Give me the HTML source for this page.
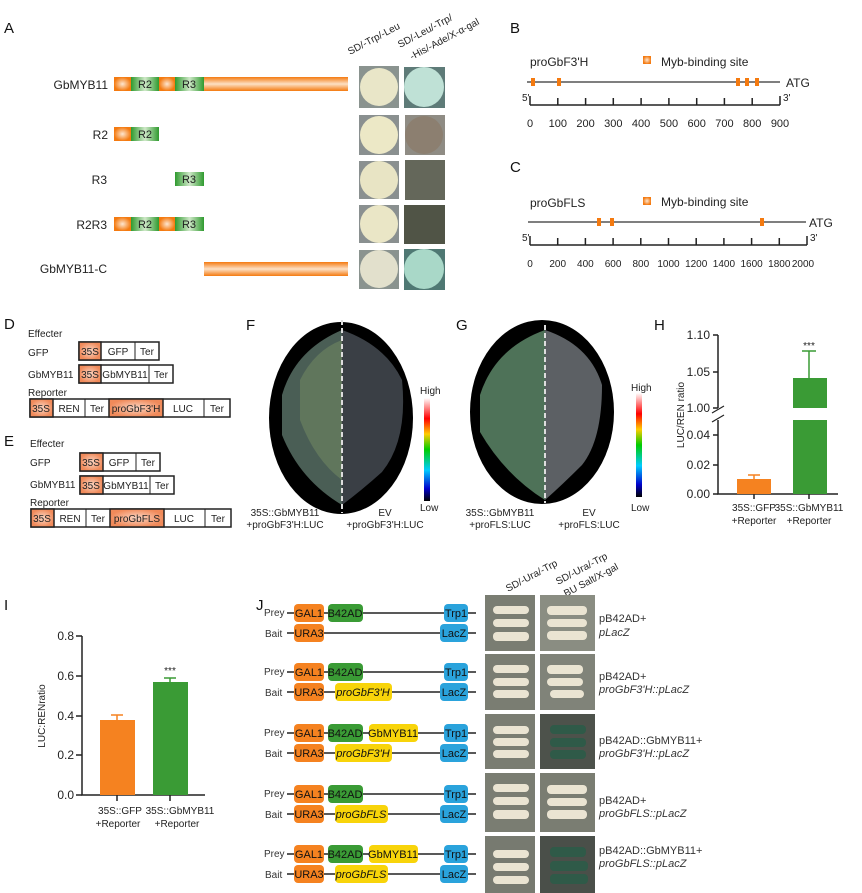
<!DOCTYPE html>
<html><head><meta charset="utf-8"><style>
html,body{margin:0;padding:0;background:#fff;}
svg{display:block;font-family:"Liberation Sans",Arial,sans-serif;}
</style></head><body>
<svg width="862" height="893" viewBox="0 0 862 893" xmlns="http://www.w3.org/2000/svg">
<defs>
<linearGradient id="og" x1="0" y1="0" x2="0" y2="1"><stop offset="0" stop-color="#f47a10"/><stop offset=".5" stop-color="#fde0c4"/><stop offset="1" stop-color="#f47a10"/></linearGradient>
<radialGradient id="ogr"><stop offset="0" stop-color="#fde6d0"/><stop offset="1" stop-color="#f47a10"/></radialGradient>
<linearGradient id="gg" x1="0" y1="0" x2="1" y2="0"><stop offset="0" stop-color="#2f9a2f"/><stop offset=".5" stop-color="#cfe8c8"/><stop offset="1" stop-color="#2f9a2f"/></linearGradient>
<radialGradient id="pg"><stop offset="0" stop-color="#fbd6c4"/><stop offset="1" stop-color="#f08a5a"/></radialGradient>
<linearGradient id="cb" x1="0" y1="0" x2="0" y2="1"><stop offset="0" stop-color="#fff"/><stop offset=".2" stop-color="#f00"/><stop offset=".35" stop-color="#fc0"/><stop offset=".5" stop-color="#0c0"/><stop offset=".7" stop-color="#0cf"/><stop offset=".88" stop-color="#00c"/><stop offset="1" stop-color="#000"/></linearGradient>
</defs>
<style>
.t{font-size:12px;fill:#222}.s{font-size:10px;fill:#222}.L{font-size:15px;fill:#111}
.bx{fill:#fff;stroke:#222;stroke-width:1.5}
</style>

<!-- A -->
<text x="4" y="33" class="L">A</text>
<text x="350" y="55" class="s" transform="rotate(-28 350 55)">SD/-Trp/-Leu</text>
<text x="400" y="48" class="s" transform="rotate(-28 400 48)">SD/-Leu/-Trp/</text>
<text x="412" y="60" class="s" transform="rotate(-28 412 60)">-His/-Ade/X-α-gal</text>
<g class="t" text-anchor="end">
<text x="108" y="89">GbMYB11</text><text x="108" y="139">R2</text><text x="107" y="184">R3</text><text x="107" y="229">R2R3</text><text x="107" y="273">GbMYB11-C</text></g>
<g>
<rect x="114" y="77" width="17" height="14" fill="url(#ogr)"/><rect x="131" y="77" width="28" height="14" fill="url(#gg)"/><rect x="159" y="77" width="16" height="14" fill="url(#ogr)"/><rect x="175" y="77" width="29" height="14" fill="url(#gg)"/><rect x="204" y="77" width="144" height="14" fill="url(#og)"/>
<rect x="114" y="127" width="17" height="14" fill="url(#ogr)"/><rect x="131" y="127" width="28" height="14" fill="url(#gg)"/>
<rect x="175" y="172" width="29" height="14" fill="url(#gg)"/>
<rect x="114" y="217" width="17" height="14" fill="url(#ogr)"/><rect x="131" y="217" width="28" height="14" fill="url(#gg)"/><rect x="159" y="217" width="16" height="14" fill="url(#ogr)"/><rect x="175" y="217" width="29" height="14" fill="url(#gg)"/>
<rect x="204" y="262" width="144" height="14" fill="url(#og)"/>
</g>
<g font-size="11" fill="#222" text-anchor="middle">
<text x="145" y="88">R2</text><text x="189" y="88">R3</text><text x="145" y="138">R2</text><text x="189" y="183">R3</text><text x="145" y="228">R2</text><text x="189" y="228">R3</text></g>
<g>
<rect x="359" y="66" width="40" height="42" fill="#8a938f"/><circle cx="379" cy="87" r="19" fill="#e9e6c8"/>
<rect x="404" y="67" width="41" height="41" fill="#5e7b78"/><circle cx="424" cy="87" r="20" fill="#bfe1d6"/>
<rect x="359" y="115" width="40" height="40" fill="#8a9090"/><circle cx="379" cy="135" r="19" fill="#ece8c6"/>
<rect x="405" y="115" width="40" height="40" fill="#8f8c84"/><circle cx="424" cy="135" r="19" fill="#8c7f70"/>
<rect x="359" y="161" width="40" height="38" fill="#8a9090"/><circle cx="379" cy="180" r="19" fill="#e8e4c4"/>
<rect x="405" y="160" width="40" height="40" fill="#64675a"/>
<rect x="359" y="205" width="40" height="38" fill="#8a9090"/><circle cx="379" cy="224" r="19" fill="#eae6c6"/>
<rect x="404" y="205" width="41" height="39" fill="#505446"/>
<rect x="359" y="250" width="40" height="39" fill="#8a938f"/><circle cx="379" cy="269" r="19" fill="#e2e0cc"/>
<rect x="404" y="249" width="41" height="41" fill="#4f7873"/><circle cx="424" cy="269" r="20" fill="#a9d8c8"/>
</g>

<!-- B -->
<text x="510" y="33" class="L">B</text>
<text x="530" y="66" class="t">proGbF3'H</text>
<rect x="643" y="56" width="8" height="8" fill="url(#ogr)"/><text x="661" y="66" class="t">Myb-binding site</text>
<line x1="527" y1="82" x2="780" y2="82" stroke="#333" stroke-width="1.2"/><text x="786" y="87" class="t">ATG</text>
<g fill="#f47a10"><rect x="531" y="78" width="4" height="8"/><rect x="557" y="78" width="4" height="8"/><rect x="736" y="78" width="4" height="8"/><rect x="745" y="78" width="4" height="8"/><rect x="755" y="78" width="4" height="8"/></g>
<text x="522" y="101" class="s">5'</text><text x="783" y="101" class="s">3'</text>
<path d="M530 105H780M530 96V105M557.8 98V105M585.6 98V105M613.3 98V105M641.1 98V105M668.9 98V105M696.7 98V105M724.4 98V105M752.2 98V105M780 96V105" stroke="#222" stroke-width="1.5" fill="none"/>
<g font-size="11" fill="#222" text-anchor="middle"><text x="530" y="127">0</text><text x="557.8" y="127">100</text><text x="585.6" y="127">200</text><text x="613.3" y="127">300</text><text x="641.1" y="127">400</text><text x="668.9" y="127">500</text><text x="696.7" y="127">600</text><text x="724.4" y="127">700</text><text x="752.2" y="127">800</text><text x="780" y="127">900</text></g>

<!-- C -->
<text x="510" y="172" class="L">C</text>
<text x="530" y="207" class="t">proGbFLS</text>
<rect x="643" y="197" width="8" height="8" fill="url(#ogr)"/><text x="661" y="206" class="t">Myb-binding site</text>
<line x1="528" y1="222" x2="806" y2="222" stroke="#333" stroke-width="1.2"/><text x="809" y="227" class="t">ATG</text>
<g fill="#f47a10"><rect x="597" y="218" width="4" height="8"/><rect x="610" y="218" width="4" height="8"/><rect x="760" y="218" width="4" height="8"/></g>
<text x="522" y="241" class="s">5'</text><text x="810" y="241" class="s">3'</text>
<path d="M530 245H807M530 236V245M557.7 238V245M585.4 238V245M613.1 238V245M640.8 238V245M668.5 238V245M696.2 238V245M723.9 238V245M751.6 238V245M779.3 238V245M807 236V245" stroke="#222" stroke-width="1.5" fill="none"/>
<g class="s" text-anchor="middle"><text x="530" y="267">0</text><text x="557.7" y="267">200</text><text x="585.4" y="267">400</text><text x="613.1" y="267">600</text><text x="640.8" y="267">800</text><text x="668.5" y="267">1000</text><text x="696.2" y="267">1200</text><text x="723.9" y="267">1400</text><text x="751.6" y="267">1600</text><text x="779.3" y="267">1800</text><text x="803" y="267">2000</text></g>

<!-- D -->
<text x="4" y="329" class="L">D</text>
<g class="s">
<text x="28" y="337">Effecter</text><text x="28" y="356">GFP</text><text x="28" y="378">GbMYB11</text><text x="28" y="396">Reporter</text>
<text x="30" y="447">Effecter</text><text x="30" y="466">GFP</text><text x="30" y="488">GbMYB11</text><text x="30" y="506">Reporter</text></g>
<text x="4" y="446" class="L">E</text>
<g>
<rect x="79" y="342" width="80" height="18" class="bx"/><rect x="79" y="342" width="22" height="18" fill="url(#pg)" stroke="#222" stroke-width="1.5"/><line x1="135" y1="342" x2="135" y2="360" stroke="#222"/>
<rect x="79" y="365" width="94" height="18" class="bx"/><rect x="79" y="365" width="22" height="18" fill="url(#pg)" stroke="#222" stroke-width="1.5"/><line x1="149" y1="365" x2="149" y2="383" stroke="#222"/>
<rect x="30" y="399" width="200" height="18" class="bx"/><rect x="30" y="399" width="23" height="18" fill="url(#pg)" stroke="#222" stroke-width="1.5"/><line x1="85" y1="399" x2="85" y2="417" stroke="#222"/><rect x="109" y="399" width="54" height="18" fill="url(#pg)" stroke="#222" stroke-width="1.5"/><line x1="204" y1="399" x2="204" y2="417" stroke="#222"/>
<rect x="80" y="453" width="80" height="18" class="bx"/><rect x="80" y="453" width="23" height="18" fill="url(#pg)" stroke="#222" stroke-width="1.5"/><line x1="136" y1="453" x2="136" y2="471" stroke="#222"/>
<rect x="80" y="476" width="94" height="18" class="bx"/><rect x="80" y="476" width="23" height="18" fill="url(#pg)" stroke="#222" stroke-width="1.5"/><line x1="150" y1="476" x2="150" y2="494" stroke="#222"/>
<rect x="31" y="509" width="200" height="18" class="bx"/><rect x="31" y="509" width="23" height="18" fill="url(#pg)" stroke="#222" stroke-width="1.5"/><line x1="86" y1="509" x2="86" y2="527" stroke="#222"/><rect x="110" y="509" width="54" height="18" fill="url(#pg)" stroke="#222" stroke-width="1.5"/><line x1="205" y1="509" x2="205" y2="527" stroke="#222"/>
</g>
<g class="s" text-anchor="middle">
<text x="90" y="355">35S</text><text x="118" y="355">GFP</text><text x="147" y="355">Ter</text>
<text x="90" y="378">35S</text><text x="125" y="378">GbMYB11</text><text x="161" y="378">Ter</text>
<text x="41" y="412">35S</text><text x="69" y="412">REN</text><text x="97" y="412">Ter</text><text x="136" y="412">proGbF3'H</text><text x="183" y="412">LUC</text><text x="217" y="412">Ter</text>
<text x="91" y="466">35S</text><text x="119" y="466">GFP</text><text x="148" y="466">Ter</text>
<text x="91" y="489">35S</text><text x="126" y="489">GbMYB11</text><text x="162" y="489">Ter</text>
<text x="42" y="522">35S</text><text x="70" y="522">REN</text><text x="98" y="522">Ter</text><text x="137" y="522">proGbFLS</text><text x="184" y="522">LUC</text><text x="218" y="522">Ter</text></g>

<!-- F -->
<text x="246" y="330" class="L">F</text>
<ellipse cx="341" cy="418" rx="72" ry="96" fill="#000"/>
<path d="M282 395 Q295 350 342 330 L342 505 Q300 480 282 435 Z" fill="#4a5e55"/>
<path d="M300 380 Q315 350 342 340 L342 480 Q315 460 300 420 Z" fill="#6a8060" opacity=".7"/>
<path d="M342 330 Q385 345 402 380 Q408 440 382 472 Q362 490 342 505 Z" fill="#3a3f45"/>
<line x1="342" y1="320" x2="342" y2="513" stroke="#ddd" stroke-width="2" stroke-dasharray="5,3"/>
<rect x="424" y="398" width="6" height="103" fill="url(#cb)"/>
<text x="420" y="394" class="s">High</text><text x="420" y="511" class="s">Low</text>
<g class="s" text-anchor="middle"><text x="285" y="516">35S::GbMYB11</text><text x="285" y="528">+proGbF3'H:LUC</text><text x="385" y="516">EV</text><text x="385" y="528">+proGbF3'H:LUC</text></g>

<!-- G -->
<text x="456" y="330" class="L">G</text>
<ellipse cx="542" cy="412" rx="72" ry="92" fill="#000"/>
<path d="M480 395 Q495 348 545 330 L545 500 Q505 475 480 432 Z" fill="#4e7258"/>
<path d="M545 330 Q590 345 602 385 Q602 440 582 465 Q562 485 545 500 Z" fill="#5c6064"/>
<line x1="545" y1="325" x2="545" y2="503" stroke="#ddd" stroke-width="2" stroke-dasharray="5,3"/>
<rect x="636" y="393" width="6" height="104" fill="url(#cb)"/>
<text x="631" y="391" class="s">High</text><text x="631" y="511" class="s">Low</text>
<g class="s" text-anchor="middle"><text x="500" y="516">35S::GbMYB11</text><text x="500" y="528">+proFLS:LUC</text><text x="589" y="516">EV</text><text x="589" y="528">+proFLS:LUC</text></g>

<!-- H -->
<text x="654" y="330" class="L">H</text>
<path d="M718 335V408M718 420V494H838" stroke="#222" stroke-width="1.5" fill="none"/>
<path d="M713 335H718M713 372H718M713 408H718M713 435H718M713 465H718M713 494H718M754 494V499M809 494V499" stroke="#222" stroke-width="1.5"/>
<path d="M712 413L724 406M712 422L724 415" stroke="#222" stroke-width="1.2"/>
<g class="t" text-anchor="end"><text x="710" y="339">1.10</text><text x="710" y="376">1.05</text><text x="710" y="412">1.00</text><text x="710" y="439">0.04</text><text x="710" y="469">0.02</text><text x="710" y="498">0.00</text></g>
<text x="684" y="415" class="s" text-anchor="middle" transform="rotate(-90 684 415)">LUC/REN ratio</text>
<rect x="737" y="479" width="34" height="15" fill="#f58220"/><path d="M754 479V475M748 475H760" stroke="#f58220" stroke-width="1.5"/>
<rect x="793" y="378" width="34" height="30" fill="#3a9b35"/><rect x="793" y="420" width="34" height="74" fill="#3a9b35"/>
<path d="M809 378V351M802 351H816" stroke="#3a9b35" stroke-width="1.5"/>
<text x="809" y="349" class="s" text-anchor="middle">***</text>
<g class="s" text-anchor="middle"><text x="754" y="511">35S::GFP</text><text x="754" y="524">+Reporter</text><text x="809" y="511">35S::GbMYB11</text><text x="809" y="524">+Reporter</text></g>

<!-- I -->
<text x="4" y="610" class="L">I</text>
<path d="M82 636V795H205" stroke="#222" stroke-width="1.5" fill="none"/>
<path d="M76 636H82M76 676H82M76 716H82M76 755H82M76 795H82M117 795V801M170 795V801" stroke="#222" stroke-width="1.5"/>
<g class="t" text-anchor="end"><text x="74" y="640">0.8</text><text x="74" y="680">0.6</text><text x="74" y="720">0.4</text><text x="74" y="759">0.2</text><text x="74" y="799">0.0</text></g>
<text x="45" y="716" class="s" text-anchor="middle" transform="rotate(-90 45 716)">LUC:RENratio</text>
<rect x="100" y="720" width="35" height="75" fill="#f58220"/><path d="M117 720V715M111 715H123" stroke="#f58220" stroke-width="1.5"/>
<rect x="153" y="682" width="35" height="113" fill="#3a9b35"/><path d="M170 682V678M164 678H176" stroke="#3a9b35" stroke-width="1.5"/>
<text x="170" y="674" class="s" text-anchor="middle">***</text>
<g class="s" text-anchor="middle"><text x="120" y="814">35S::GFP</text><text x="118" y="827">+Reporter</text><text x="180" y="814">35S::GbMYB11</text><text x="177" y="827">+Reporter</text></g>

<!-- J -->
<text x="256" y="610" class="L">J</text>
<text x="508" y="592" class="s" transform="rotate(-28 508 592)">SD/-Ura/-Trp</text>
<text x="558" y="585" class="s" transform="rotate(-28 558 585)">SD/-Ura/-Trp</text>
<text x="566" y="597" class="s" transform="rotate(-28 566 597)">BU Salt/X-gal</text>
<g font-size="10" fill="#333">
<text x="264" y="616">Prey</text><text x="265" y="637">Bait</text>
<text x="264" y="675">Prey</text><text x="265" y="696">Bait</text>
<text x="264" y="736">Prey</text><text x="265" y="757">Bait</text>
<text x="264" y="797">Prey</text><text x="265" y="818">Bait</text>
<text x="264" y="857">Prey</text><text x="265" y="878">Bait</text>
</g>
<g stroke="#222" stroke-width="1.5">
<line x1="287" y1="613" x2="476" y2="613"/><line x1="287" y1="633" x2="476" y2="633"/>
<line x1="287" y1="672" x2="476" y2="672"/><line x1="287" y1="692" x2="476" y2="692"/>
<line x1="287" y1="733" x2="476" y2="733"/><line x1="287" y1="753" x2="476" y2="753"/>
<line x1="287" y1="794" x2="476" y2="794"/><line x1="287" y1="814" x2="476" y2="814"/>
<line x1="287" y1="854" x2="476" y2="854"/><line x1="287" y1="874" x2="476" y2="874"/>
</g>
<g>
<g fill="#f58220"><rect x="294" y="604" width="30" height="18" rx="4"/><rect x="294" y="624" width="30" height="18" rx="4"/><rect x="294" y="663" width="30" height="18" rx="4"/><rect x="294" y="683" width="30" height="18" rx="4"/><rect x="294" y="724" width="30" height="18" rx="4"/><rect x="294" y="744" width="30" height="18" rx="4"/><rect x="294" y="785" width="30" height="18" rx="4"/><rect x="294" y="805" width="30" height="18" rx="4"/><rect x="294" y="845" width="30" height="18" rx="4"/><rect x="294" y="865" width="30" height="18" rx="4"/></g>
<g fill="#3a9b35"><rect x="328" y="604" width="35" height="18" rx="4"/><rect x="328" y="663" width="35" height="18" rx="4"/><rect x="328" y="724" width="35" height="18" rx="4"/><rect x="328" y="785" width="35" height="18" rx="4"/><rect x="328" y="845" width="35" height="18" rx="4"/></g>
<g fill="#2aa3dc"><rect x="444" y="604" width="24" height="18" rx="4"/><rect x="440" y="624" width="28" height="18" rx="4"/><rect x="444" y="663" width="24" height="18" rx="4"/><rect x="440" y="683" width="28" height="18" rx="4"/><rect x="444" y="724" width="24" height="18" rx="4"/><rect x="440" y="744" width="28" height="18" rx="4"/><rect x="444" y="785" width="24" height="18" rx="4"/><rect x="440" y="805" width="28" height="18" rx="4"/><rect x="444" y="845" width="24" height="18" rx="4"/><rect x="440" y="865" width="28" height="18" rx="4"/></g>
<g fill="#f8d40a"><rect x="335" y="683" width="57" height="18" rx="4"/><rect x="369" y="724" width="49" height="18" rx="4"/><rect x="335" y="744" width="57" height="18" rx="4"/><rect x="335" y="805" width="53" height="18" rx="4"/><rect x="369" y="845" width="49" height="18" rx="4"/><rect x="335" y="865" width="53" height="18" rx="4"/></g>
</g>
<g font-size="11" fill="#111" text-anchor="middle">
<text x="309" y="617">GAL1</text><text x="345" y="617">B42AD</text><text x="456" y="617">Trp1</text><text x="309" y="637">URA3</text><text x="454" y="637">LacZ</text>
<text x="309" y="676">GAL1</text><text x="345" y="676">B42AD</text><text x="456" y="676">Trp1</text><text x="309" y="696">URA3</text><text x="454" y="696">LacZ</text><text x="363" y="696" font-style="italic">proGbF3'H</text>
<text x="309" y="737">GAL1</text><text x="345" y="737">B42AD</text><text x="393" y="737">GbMYB11</text><text x="456" y="737">Trp1</text><text x="309" y="757">URA3</text><text x="454" y="757">LacZ</text><text x="363" y="757" font-style="italic">proGbF3'H</text>
<text x="309" y="798">GAL1</text><text x="345" y="798">B42AD</text><text x="456" y="798">Trp1</text><text x="309" y="818">URA3</text><text x="454" y="818">LacZ</text><text x="361" y="818" font-style="italic">proGbFLS</text>
<text x="309" y="858">GAL1</text><text x="345" y="858">B42AD</text><text x="393" y="858">GbMYB11</text><text x="456" y="858">Trp1</text><text x="309" y="878">URA3</text><text x="454" y="878">LacZ</text><text x="361" y="878" font-style="italic">proGbFLS</text>
</g>
<g>
<rect x="485" y="595" width="50" height="56" fill="#7a7d72"/><rect x="540" y="595" width="55" height="56" fill="#8a8d82"/>
<rect x="485" y="654" width="50" height="56" fill="#7a7d72"/><rect x="540" y="654" width="55" height="56" fill="#808379"/>
<rect x="485" y="714" width="50" height="55" fill="#7a7d72"/><rect x="540" y="714" width="55" height="55" fill="#4d524b"/>
<rect x="485" y="773" width="50" height="59" fill="#7a7d72"/><rect x="540" y="773" width="55" height="59" fill="#7a7d72"/>
<rect x="485" y="836" width="50" height="57" fill="#777a70"/><rect x="540" y="836" width="55" height="57" fill="#4a4f49"/>
</g>
<g fill="#eae4d2">
<rect x="493" y="606" width="36" height="8" rx="4"/><rect x="493" y="619" width="36" height="8" rx="4"/><rect x="493" y="632" width="36" height="9" rx="4"/>
<rect x="547" y="606" width="40" height="9" rx="4"/><rect x="547" y="619" width="40" height="8" rx="4"/><rect x="547" y="631" width="40" height="9" rx="4"/>
<rect x="493" y="665" width="36" height="8" rx="4"/><rect x="493" y="678" width="36" height="8" rx="4"/><rect x="493" y="690" width="36" height="8" rx="4"/>
<rect x="547" y="665" width="36" height="9" rx="4"/><rect x="547" y="678" width="36" height="8" rx="4"/><rect x="550" y="690" width="34" height="8" rx="4"/>
<rect x="493" y="726" width="36" height="8" rx="4"/><rect x="493" y="738" width="36" height="8" rx="4"/><rect x="493" y="750" width="36" height="8" rx="4"/>
<rect x="493" y="784" width="36" height="8" rx="4"/><rect x="493" y="797" width="36" height="8" rx="4"/><rect x="493" y="810" width="36" height="9" rx="4"/>
<rect x="547" y="785" width="40" height="9" rx="4"/><rect x="547" y="798" width="40" height="8" rx="4"/><rect x="547" y="810" width="40" height="9" rx="4"/>
<rect x="493" y="850" width="36" height="8" rx="4"/><rect x="493" y="863" width="36" height="8" rx="4"/><rect x="493" y="876" width="36" height="8" rx="4"/>
</g>
<g fill="#2f5a48">
<rect x="550" y="725" width="36" height="9" rx="4"/><rect x="550" y="738" width="36" height="9" rx="4"/><rect x="550" y="750" width="36" height="9" rx="4"/>
<rect x="550" y="847" width="36" height="10" rx="4"/><rect x="550" y="861" width="38" height="10" rx="4"/><rect x="550" y="874" width="38" height="10" rx="4"/>
</g>
<g font-size="11" fill="#333">
<text x="599" y="622">pB42AD+</text><text x="599" y="636" font-style="italic">pLacZ</text>
<text x="599" y="680">pB42AD+</text><text x="599" y="693" font-style="italic">proGbF3'H::pLacZ</text>
<text x="599" y="744">pB42AD::GbMYB11+</text><text x="599" y="757" font-style="italic">proGbF3'H::pLacZ</text>
<text x="599" y="804">pB42AD+</text><text x="599" y="817" font-style="italic">proGbFLS::pLacZ</text>
<text x="599" y="854">pB42AD::GbMYB11+</text><text x="599" y="867" font-style="italic">proGbFLS::pLacZ</text>
</g>
</svg>
</body></html>
